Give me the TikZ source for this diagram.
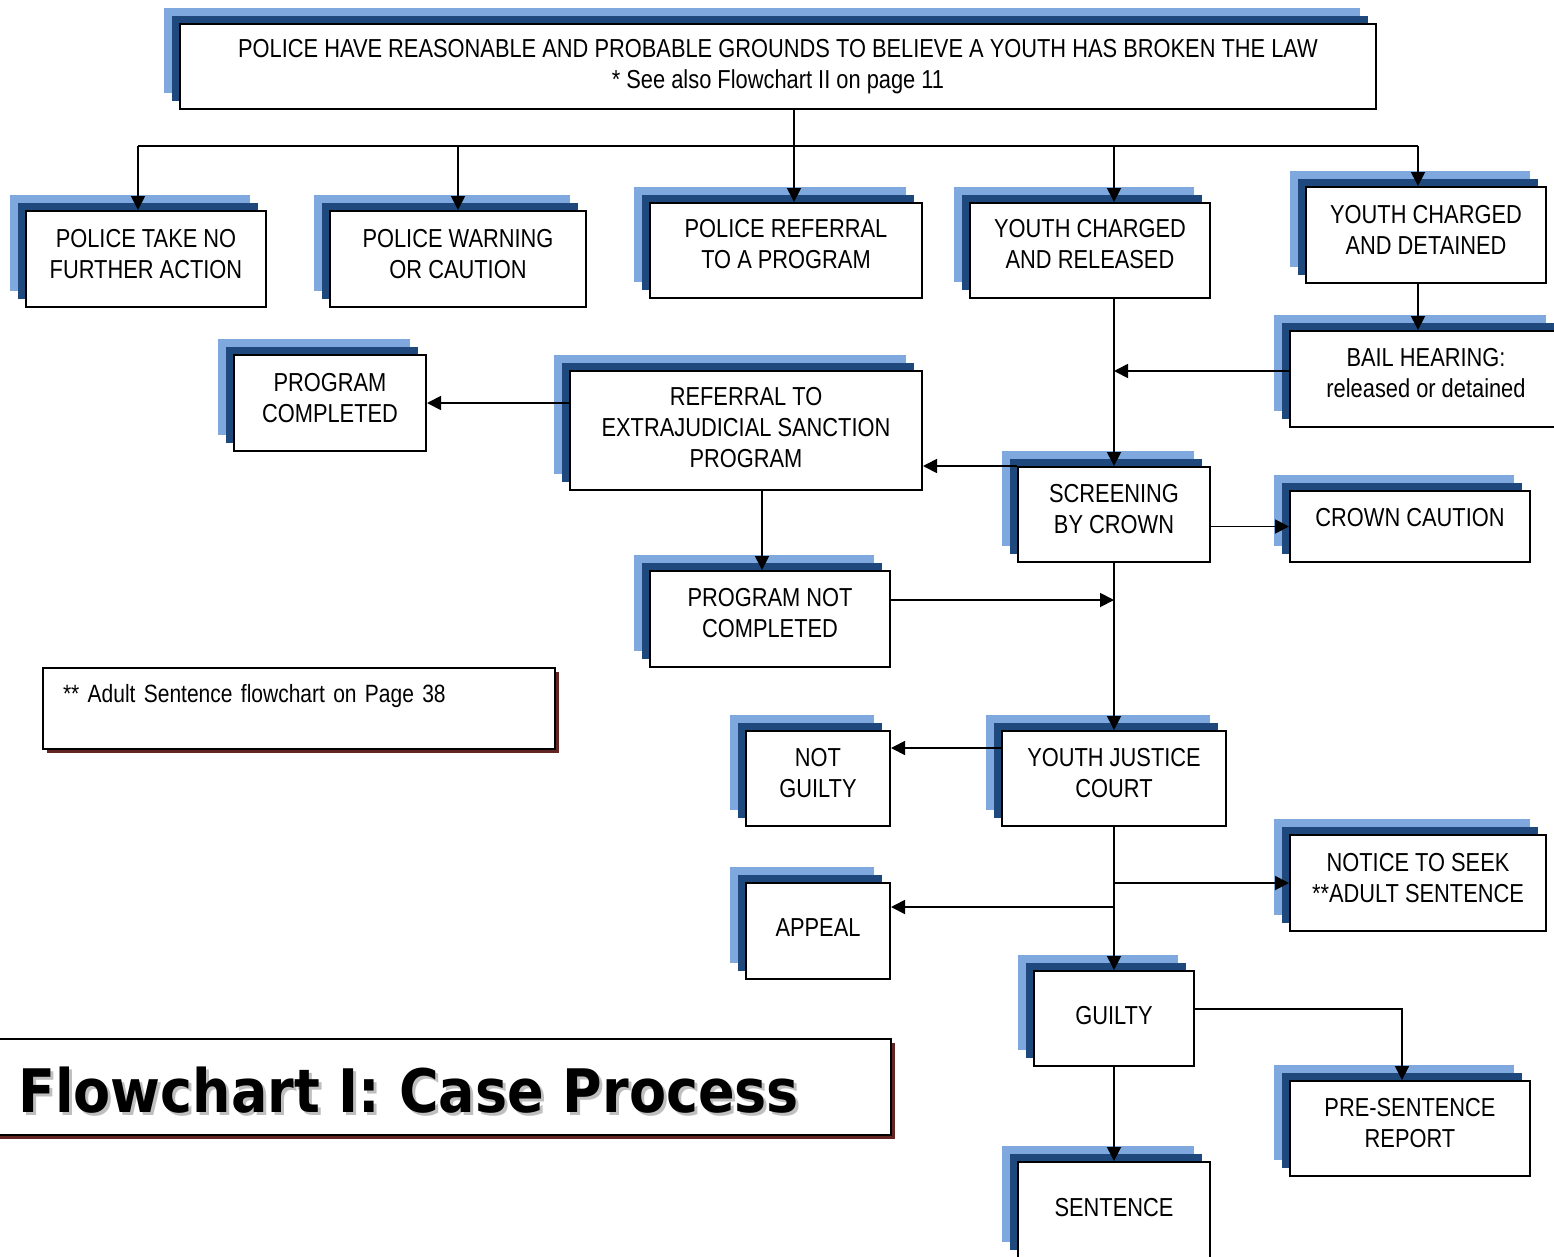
\documentclass[tikz,border=0pt]{standalone}
\usepackage{fontspec}
\setmainfont{Liberation Sans}[FakeStretch=0.84]
\newfontfamily\titlefont{DejaVu Sans Bold}[FakeStretch=0.9]
\usetikzlibrary{arrows.meta,shadows}

\definecolor{lightshade}{HTML}{7FA9DE}
\definecolor{darkshade}{HTML}{1F497D}
\definecolor{redshade}{HTML}{632523}

\tikzset{
  stepbox/.style={draw=black, line width=2pt, fill=white, align=center, inner sep=0pt,
    font=\fontsize{26}{31}\selectfont,
    copy shadow={shadow xshift=-16pt, shadow yshift=16pt, fill=lightshade, draw=none},
    copy shadow={shadow xshift=-8pt, shadow yshift=8pt, fill=darkshade, draw=none}},
  % text sits a little above the middle of its box
  oneline/.style={text depth=6pt},
  twolines/.style={text depth=11pt},
  twolinesup/.style={text depth=13pt},
  threelines/.style={text depth=6pt},
  notebox/.style={draw=black, line width=2pt, fill=white, inner sep=0pt,
    copy shadow={shadow xshift=4pt, shadow yshift=-4pt, fill=redshade, draw=none}},
  link/.style={line width=1.8pt},
  arr/.style={link, -{Triangle[length=14pt,width=14pt]}},
}

\begin{document}
\begin{tikzpicture}[x=1pt, y=-1pt]
\useasboundingbox (0,0) rectangle (1554,1256);
\clip (0,0) rectangle (1554,1256);

% boxes of the process
\node[stepbox, minimum width=1196pt, minimum height=85pt] (top) at (778,66.5)
  {POLICE HAVE REASONABLE AND PROBABLE GROUNDS TO BELIEVE A YOUTH HAS BROKEN THE LAW\\ * See also Flowchart II on page 11};
\node[stepbox, twolines, minimum width=240pt, minimum height=96pt] (n1) at (146,259) {POLICE TAKE NO\\FURTHER ACTION};
\node[stepbox, twolines, minimum width=256pt, minimum height=96pt] (n2) at (458,259) {POLICE WARNING\\OR CAUTION};
\node[stepbox, twolinesup, minimum width=272pt, minimum height=95pt] (n3) at (786,250.5) {POLICE REFERRAL\\TO A PROGRAM};
\node[stepbox, twolinesup, minimum width=240pt, minimum height=95pt] (n4) at (1090,250.5) {YOUTH CHARGED\\AND RELEASED};
\node[stepbox, twolines, minimum width=240pt, minimum height=96pt] (n5) at (1426,235) {YOUTH CHARGED\\AND DETAINED};
\node[stepbox, twolinesup, minimum width=272pt, minimum height=96pt] (bail) at (1426,379) {BAIL HEARING:\\released or detained};
\node[stepbox, twolines, minimum width=192pt, minimum height=96pt] (pc) at (330,403) {PROGRAM\\COMPLETED};
\node[stepbox, threelines, minimum width=352pt, minimum height=119pt] (ejs) at (746,430.5) {REFERRAL TO\\EXTRAJUDICIAL SANCTION\\PROGRAM};
\node[stepbox, twolines, minimum width=192pt, minimum height=95pt] (scr) at (1114,514.5) {SCREENING\\BY CROWN};
\node[stepbox, minimum width=240pt, minimum height=71pt] (cc) at (1410,526.5) {\raisebox{9pt}[\height][\depth]{CROWN CAUTION}};
\node[stepbox, twolinesup, minimum width=240pt, minimum height=96pt] (pnc) at (770,619) {PROGRAM NOT\\COMPLETED};
\node[stepbox, twolines, minimum width=144pt, minimum height=95pt] (ng) at (818,778.5) {NOT\\GUILTY};
\node[stepbox, twolines, minimum width=224pt, minimum height=95pt] (yjc) at (1114,778.5) {YOUTH JUSTICE\\COURT};
\node[stepbox, twolines, minimum width=256pt, minimum height=96pt] (nts) at (1418,883) {NOTICE TO SEEK\\**ADULT SENTENCE};
\node[stepbox, oneline, minimum width=144pt, minimum height=96pt] (app) at (818,931) {APPEAL};
\node[stepbox, oneline, minimum width=160pt, minimum height=95pt] (gu) at (1114,1018.5) {GUILTY};
\node[stepbox, twolines, minimum width=240pt, minimum height=95pt] (psr) at (1410,1128.5) {PRE-SENTENCE\\REPORT};
\node[stepbox, oneline, minimum width=192pt, minimum height=96pt] (sen) at (1114,1210) {SENTENCE};

% note and title
\node[notebox, anchor=north west, minimum height=81pt, text width=472pt, inner xsep=20pt,
  align=left, font=\fontsize{25}{31}\selectfont] (note) at (42,667)
  {\raisebox{12.5pt}[\height][\depth]{** Adult Sentence flowchart on Page 38}};
\node[notebox, anchor=west, minimum width=900pt, minimum height=96pt] (title) at (-10,1087) {};
\node[anchor=west, inner sep=0pt, text=black!25, font=\titlefont\fontsize{60}{66}\selectfont]
  (titleshadow) at (21,1093) {Flowchart I: Case Process};
\node[anchor=west, inner sep=0pt, font=\titlefont\fontsize{60}{66}\selectfont]
  (titletext) at (18,1090) {Flowchart I: Case Process};

% junction points of the connectors
\coordinate (busL) at (138,146);
\coordinate (busR) at (1418,146);
\coordinate (j3) at (794,146);
\coordinate (j4) at (1114,146);
\coordinate (m1) at (1114,600);
\coordinate (m2) at (1002,748);
\coordinate (m3) at (1114,883);
\coordinate (m4) at (1114,907);
\coordinate (m5) at (1402,1009);
\coordinate (m6) at (1114,371);

% connectors
\draw[link] (busL) -- (busR);
\draw[arr] (busL) -- (busL |- n1.north);
\draw[arr] (busL -| n2.north) -- (n2.north);
\draw[arr] (j3 |- top.south) -- (j3 |- n3.north);
\draw[arr] (j4) -- (j4 |- n4.north);
\draw[arr] (busR) -- (busR |- n5.north);
\draw[arr] (j4 |- n4.south) -- (scr.north);
\draw[arr] (busR |- n5.south) -- (busR |- bail.north);
\draw[arr] (bail.west |- m6) -- (m6);
\draw[arr] (ejs.west |- pc.east) -- (pc.east);
\draw[arr] (scr.north west) -- (ejs.east |- scr.north west);
\draw[arr] ([xshift=16pt]ejs.south) -- ([xshift=-8pt]pnc.north);
\draw[arr] (scr.east |- cc.west) -- (cc.west);
\draw[arr] (scr.south) -- (yjc.north);
\draw[arr] (pnc.east |- m1) -- (m1);
\draw[arr] (m2) -- (ng.east |- m2);
\draw[arr] (yjc.south) -- (gu.north);
\draw[arr] (m3) -- (nts.west);
\draw[arr] (m4) -- (app.east |- m4);
\draw[arr] (gu.east |- m5) -- (m5) -- (m5 |- psr.north);
\draw[arr] (gu.south) -- (sen.north);
\end{tikzpicture}
\end{document}
